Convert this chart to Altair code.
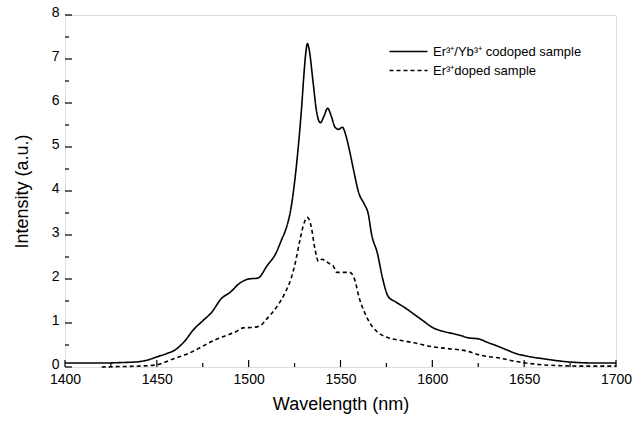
import altair as alt
import pandas as pd

# Er3+/Yb3+ codoped sample (solid)
co_wl = [1400, 1410, 1420, 1430, 1440, 1445, 1450, 1455, 1460, 1465, 1470, 1475, 1480, 1485, 1490,
         1495, 1500, 1505, 1510, 1515, 1518, 1520, 1523, 1525, 1527, 1529, 1530, 1531, 1532, 1533,
         1535, 1537, 1539, 1541, 1543, 1545, 1547, 1549, 1551, 1553, 1555, 1557, 1560, 1563, 1565,
         1567, 1570, 1573, 1576, 1580, 1585, 1590, 1595, 1600, 1605, 1610, 1615, 1620, 1625, 1630,
         1637, 1641, 1646, 1650, 1655, 1660, 1665, 1673, 1680, 1690, 1700]
co_int = [0.09, 0.09, 0.09, 0.10, 0.12, 0.16, 0.23, 0.30, 0.39, 0.58, 0.85, 1.05, 1.25, 1.55, 1.70,
          1.90, 2.00, 2.02, 2.30, 2.60, 2.90, 3.10, 3.60, 4.20, 5.00, 6.00, 6.60, 7.10, 7.35, 7.20,
          6.50, 5.80, 5.55, 5.70, 5.88, 5.70, 5.45, 5.40, 5.45, 5.25, 4.90, 4.50, 3.95, 3.70, 3.50,
          3.00, 2.60, 2.00, 1.60, 1.48, 1.35, 1.20, 1.05, 0.90, 0.82, 0.77, 0.72, 0.66, 0.64, 0.56,
          0.45, 0.38, 0.30, 0.26, 0.22, 0.19, 0.16, 0.12, 0.10, 0.09, 0.09]

# Er3+ doped sample (dashed)
er_wl = [1420, 1430, 1440, 1450, 1455, 1460, 1465, 1469, 1474, 1478, 1483, 1488, 1493, 1497, 1502,
         1506, 1510, 1515, 1520, 1523, 1525, 1528, 1530, 1532, 1534, 1536, 1538, 1540, 1542, 1544,
         1546, 1548, 1552, 1555, 1558, 1560, 1563, 1566, 1570, 1575, 1582, 1590, 1600, 1608, 1615,
         1620, 1626, 1630, 1637, 1645, 1651, 1660, 1670, 1680, 1690, 1700]
er_int = [0.00, 0.01, 0.02, 0.05, 0.12, 0.20, 0.27, 0.34, 0.45, 0.54, 0.64, 0.72, 0.80, 0.89, 0.90,
          0.93, 1.10, 1.35, 1.70, 2.00, 2.30, 2.90, 3.25, 3.40, 3.20, 2.70, 2.40, 2.45, 2.40, 2.35,
          2.30, 2.15, 2.15, 2.15, 1.95, 1.60, 1.25, 1.00, 0.80, 0.68, 0.61, 0.55, 0.46, 0.42, 0.39,
          0.35, 0.27, 0.24, 0.20, 0.13, 0.09, 0.05, 0.03, 0.02, 0.02, 0.02]

series_names = ["Er³⁺/Yb³⁺ codoped sample", "Er³⁺doped sample"]

x_major = [1400, 1450, 1500, 1550, 1600, 1650, 1700]
x_minor = [1425, 1475, 1525, 1575, 1625, 1675]
y_major = [0, 1, 2, 3, 4, 5, 6, 7, 8]
y_minor = [0.5, 1.5, 2.5, 3.5, 4.5, 5.5, 6.5, 7.5]

W, H = 551, 352

df = pd.concat([
    pd.DataFrame({"wl": co_wl, "I": co_int, "s": series_names[0]}),
    pd.DataFrame({"wl": er_wl, "I": er_int, "s": series_names[1]}),
])

xs = alt.Scale(domain=[1400, 1700], nice=False, zero=False)
ys = alt.Scale(domain=[0, 8], nice=False)

lines = alt.Chart(df).mark_line(color="black", strokeWidth=1.6, interpolate="monotone").encode(
    x=alt.X("wl:Q", scale=xs, title="Wavelength (nm)",
            axis=alt.Axis(values=x_major, format="d", ticks=False, grid=False, domain=False,
                          labelPadding=5, labelFontSize=14, titleFontSize=18,
                          titleFontWeight="normal", titlePadding=9, labelColor="black",
                          titleColor="black", labelFont="Liberation Sans",
                          titleFont="Liberation Sans", labelFlush=False)),
    y=alt.Y("I:Q", scale=ys, title="Intensity (a.u.)",
            axis=alt.Axis(values=y_major, format="d", ticks=False, grid=False, domain=False,
                          labelPadding=6, labelFontSize=14, titleFontSize=18,
                          titleFontWeight="normal", titlePadding=20, labelColor="black",
                          titleColor="black", labelFont="Liberation Sans",
                          titleFont="Liberation Sans", labelFlush=False, labelOffset=-3)),
    strokeDash=alt.StrokeDash("s:N", sort=series_names,
                              scale=alt.Scale(domain=series_names, range=[[1, 0], [4, 3]]),
                              legend=alt.Legend(title=None, orient="none", legendX=333, legendY=26,
                                                symbolType="M-2,0H2", symbolSize=361,
                                                symbolStrokeColor="black", symbolStrokeWidth=1.6,
                                                labelFontSize=13, labelFont="Liberation Sans",
                                                labelColor="black", rowPadding=1,
                                                labelOffset=14)),
)

def xticks(vals, length):
    return alt.Chart(pd.DataFrame({"v": vals})).mark_rule(color="black", strokeWidth=1.2).encode(
        x=alt.X("v:Q", scale=xs), y=alt.value(H), y2=alt.value(H - length))

def yticks(vals, length):
    return alt.Chart(pd.DataFrame({"v": vals})).mark_rule(color="black", strokeWidth=1.2).encode(
        y=alt.Y("v:Q", scale=ys), x=alt.value(0), x2=alt.value(length))

chart = alt.layer(
    lines,
    xticks(x_major, 7), xticks(x_minor, 4),
    yticks(y_major, 7), yticks(y_minor, 4),
).properties(
    width=W, height=H,
    autosize=alt.AutoSizeParams(type="none"),
    padding={"left": 65, "top": 15, "right": 20, "bottom": 57},
).configure_view(stroke="black", strokeWidth=1.6).configure(background="white")

chart.save("out.html", embed_options={"renderer": "svg", "actions": False})
